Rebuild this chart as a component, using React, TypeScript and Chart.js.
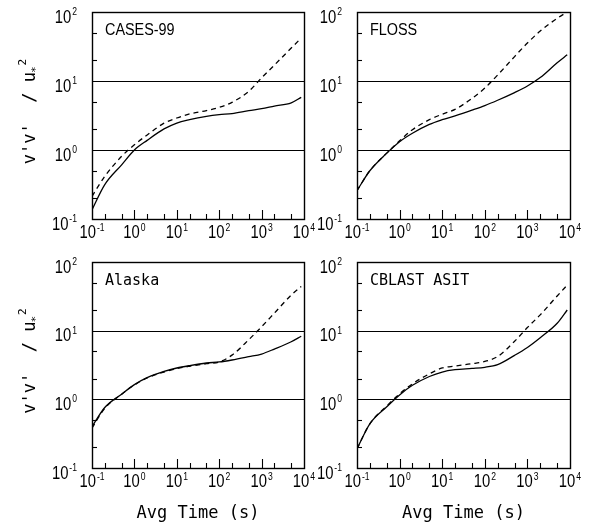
import React, { useEffect, useRef } from 'react';
import { Chart, registerables } from 'chart.js';

Chart.register(...registerables);

// ---- data ----
const avgTime = [0.1, 0.2, 0.5, 1, 2, 5, 10, 20, 50, 100, 200, 500, 1000, 2000, 5000, 8600];

const cases99Solid = [0.136, 0.315, 0.61, 1.0, 1.38, 2.02, 2.46, 2.75, 3.07, 3.25, 3.37, 3.72, 3.97, 4.33, 4.82, 5.8];
const cases99Dashed = [0.213, 0.415, 0.81, 1.19, 1.65, 2.45, 2.91, 3.33, 3.72, 4.15, 4.9, 7.1, 11.1, 17, 30, 42];

const flossSolid = [0.258, 0.5, 0.9, 1.32, 1.75, 2.35, 2.75, 3.13, 3.78, 4.4, 5.26, 6.8, 8.45, 11.2, 18.4, 24];
const flossDashed = [0.258, 0.5, 0.9, 1.36, 1.97, 2.75, 3.3, 3.88, 5.6, 7.9, 12.2, 22.6, 35.5, 53, 81, 100];

const alaskaSolid = [0.4, 0.76, 1.19, 1.64, 2.07, 2.55, 2.86, 3.1, 3.38, 3.5, 3.74, 4.18, 4.57, 5.4, 6.9, 8.3];
const alaskaDashed = [0.38, 0.74, 1.19, 1.62, 2.05, 2.5, 2.8, 3.03, 3.3, 3.5, 4.4, 7.4, 11.4, 18, 33, 44];

const cblastSolid = [0.19, 0.44, 0.78, 1.16, 1.6, 2.15, 2.5, 2.7, 2.82, 2.93, 3.2, 4.37, 5.7, 7.9, 12.8, 20];
const cblastDashed = [0.19, 0.44, 0.8, 1.2, 1.68, 2.35, 2.86, 3.05, 3.3, 3.57, 4.2, 7.0, 11.1, 17, 32, 46];

const panelTitles = ['CASES-99', 'FLOSS', 'Alaska', 'CBLAST ASIT'];

const xTickValues = [0.1, 1, 10, 100, 1000, 10000];
const xTickExps = ['-1', '0', '1', '2', '3', '4'];
const yTickValues = [0.1, 1, 10, 100];
const yTickExps = ['-1', '0', '1', '2'];
const refLineValues = [1, 10];
const minorMultipliers = [2, 5];

const yAxisTitle = "v'v'  / u";
const yAxisTitleSub = '*';
const yAxisTitleSup = '2';
const xAxisTitle = 'Avg Time (s)';

// ---- styling ----
const W = 592;
const H = 527;
const SANS = '"Liberation Sans", Arial, sans-serif';
const MONO = '"DejaVu Sans Mono", monospace';
const SX = 0.78;

type Area = { left: number; top: number; right: number; bottom: number };
type PanelSpec = {
  title: string;
  titleMono: boolean;
  solid: number[];
  dashed: number[];
  area: Area;
  yTitle: boolean;
  xTitle: boolean;
};

const panels: PanelSpec[] = [
  { title: panelTitles[0], titleMono: false, solid: cases99Solid, dashed: cases99Dashed, area: { left: 92, top: 12, right: 304, bottom: 219 }, yTitle: true, xTitle: false },
  { title: panelTitles[1], titleMono: false, solid: flossSolid, dashed: flossDashed, area: { left: 357, top: 12, right: 570, bottom: 219 }, yTitle: false, xTitle: false },
  { title: panelTitles[2], titleMono: true, solid: alaskaSolid, dashed: alaskaDashed, area: { left: 92, top: 262, right: 304, bottom: 468 }, yTitle: true, xTitle: true },
  { title: panelTitles[3], titleMono: true, solid: cblastSolid, dashed: cblastDashed, area: { left: 357, top: 262, right: 570, bottom: 468 }, yTitle: false, xTitle: true },
];

function condensed(ctx: CanvasRenderingContext2D, text: string, x: number, y: number, sx: number) {
  ctx.save();
  ctx.translate(x, y);
  ctx.scale(sx, 1);
  ctx.fillText(text, 0, 0);
  ctx.restore();
}

function drawPower(ctx: CanvasRenderingContext2D, exp: string, x: number, baseline: number, align: 'center' | 'right') {
  ctx.textAlign = 'left';
  ctx.textBaseline = 'alphabetic';
  ctx.font = `19px ${SANS}`;
  const wb = ctx.measureText('10').width * SX;
  ctx.font = `11px ${SANS}`;
  const we = ctx.measureText(exp).width * SX;
  const gap = 1;
  const total = wb + gap + we;
  const left = align === 'center' ? x - total / 2 : x - total;
  ctx.font = `19px ${SANS}`;
  condensed(ctx, '10', left, baseline, SX);
  ctx.font = `11px ${SANS}`;
  condensed(ctx, exp, left + wb + gap, baseline - 7.5, SX);
}

const decorPlugin = {
  id: 'panelDecor',
  beforeDatasetsDraw(chart: any) {
    const { ctx, chartArea: a, scales } = chart;
    const y = scales.y;
    ctx.save();
    ctx.strokeStyle = '#000';
    ctx.lineWidth = 1.2;
    for (const v of refLineValues) {
      const py = Math.round(y.getPixelForValue(v)) + 0.5;
      ctx.beginPath();
      ctx.moveTo(a.left, py);
      ctx.lineTo(a.right, py);
      ctx.stroke();
    }
    ctx.restore();
  },
  afterDatasetsDraw(chart: any, _args: any, opts: any) {
    const spec: PanelSpec = opts.spec;
    const { ctx, chartArea: a, scales } = chart;
    const x = scales.x;
    const y = scales.y;
    ctx.save();
    ctx.strokeStyle = '#000';
    ctx.fillStyle = '#000';
    ctx.lineWidth = 1.4;
    // frame
    ctx.strokeRect(a.left + 0.5, a.top + 0.5, a.right - a.left, a.bottom - a.top);

    ctx.lineWidth = 1.1;
    // x ticks (inward from bottom)
    for (let d = -1; d <= 3; d++) {
      for (const m of minorMultipliers) {
        const px = Math.round(x.getPixelForValue(m * Math.pow(10, d))) + 0.5;
        ctx.beginPath();
        ctx.moveTo(px, a.bottom);
        ctx.lineTo(px, a.bottom - 5);
        ctx.stroke();
      }
    }
    for (const v of xTickValues.slice(1, -1)) {
      const px = Math.round(x.getPixelForValue(v)) + 0.5;
      ctx.beginPath();
      ctx.moveTo(px, a.bottom);
      ctx.lineTo(px, a.bottom - 9);
      ctx.stroke();
    }
    // y ticks (inward from left)
    for (let d = -1; d <= 1; d++) {
      for (const m of minorMultipliers) {
        const py = Math.round(y.getPixelForValue(m * Math.pow(10, d))) + 0.5;
        ctx.beginPath();
        ctx.moveTo(a.left, py);
        ctx.lineTo(a.left + 5, py);
        ctx.stroke();
      }
    }

    // tick labels
    xTickValues.forEach((v, i) => {
      drawPower(ctx, xTickExps[i], x.getPixelForValue(v), a.bottom + 19, 'center');
    });
    yTickValues.forEach((v, i) => {
      drawPower(ctx, yTickExps[i], a.left - 15, y.getPixelForValue(v) + 10.5, 'right');
    });

    // panel title
    if (spec.titleMono) {
      ctx.font = `15px ${MONO}`;
      ctx.textAlign = 'left';
      ctx.fillText(spec.title, a.left + 13, a.top + 22.5);
    } else {
      ctx.font = `16px ${SANS}`;
      ctx.textAlign = 'left';
      condensed(ctx, spec.title, a.left + 13, a.top + 22.5, 0.9);
    }

    // x axis title
    if (spec.xTitle) {
      ctx.font = `17px ${MONO}`;
      ctx.textAlign = 'center';
      ctx.fillText(xAxisTitle, (a.left + a.right) / 2, 518);
    }

    // y axis title (rotated)
    if (spec.yTitle) {
      ctx.save();
      const cy = (a.top + a.bottom) / 2 - 4;
      ctx.translate(35, cy);
      ctx.rotate(-Math.PI / 2);
      ctx.textAlign = 'left';
      ctx.font = `17px ${MONO}`;
      const w1 = ctx.measureText(yAxisTitle).width;
      ctx.font = `11px ${MONO}`;
      const w2 = ctx.measureText(yAxisTitleSub).width;
      const w3 = ctx.measureText(yAxisTitleSup).width;
      const total = w1 + w2 + w3;
      let px = -total / 2;
      ctx.font = `17px ${MONO}`;
      ctx.fillText(yAxisTitle, px, 0);
      px += w1;
      ctx.font = `11px ${MONO}`;
      ctx.fillText(yAxisTitleSub, px - 1, 4);
      px += w2;
      ctx.fillText(yAxisTitleSup, px, -9);
      ctx.restore();
    }
    ctx.restore();
  },
};

function Panel({ spec }: { spec: PanelSpec }) {
  const ref = useRef<HTMLCanvasElement>(null);
  useEffect(() => {
    const toPoints = (vals: number[]) => avgTime.map((t, i) => ({ x: t, y: vals[i] }));
    const chart = new Chart(ref.current as HTMLCanvasElement, {
      type: 'line',
      data: {
        datasets: [
          {
            label: 'solid',
            data: toPoints(spec.solid),
            borderColor: '#000',
            borderWidth: 1.3,
            pointRadius: 0,
            fill: false,
            cubicInterpolationMode: 'monotone',
          },
          {
            label: 'dashed',
            data: toPoints(spec.dashed),
            borderColor: '#000',
            borderWidth: 1.3,
            borderDash: [5, 4],
            pointRadius: 0,
            fill: false,
            cubicInterpolationMode: 'monotone',
          },
        ],
      },
      options: {
        responsive: false,
        animation: false,
        devicePixelRatio: 1,
        events: [],
        layout: {
          padding: {
            left: spec.area.left,
            top: spec.area.top,
            right: W - spec.area.right,
            bottom: H - spec.area.bottom,
          },
        },
        scales: {
          x: { type: 'logarithmic', min: 0.1, max: 10000, display: false },
          y: { type: 'logarithmic', min: 0.1, max: 100, display: false },
        },
        plugins: {
          legend: { display: false },
          tooltip: { enabled: false },
          panelDecor: { spec },
        } as any,
      },
      plugins: [decorPlugin],
    } as any);
    return () => chart.destroy();
  }, [spec]);
  return <canvas ref={ref} width={W} height={H} style={{ position: 'absolute', left: 0, top: 0 }} />;
}

export default function App() {
  return (
    <div style={{ position: 'absolute', left: 0, top: 0, width: W, height: H, background: '#fff' }}>
      {panels.map((p) => (
        <Panel key={p.title} spec={p} />
      ))}
    </div>
  );
}
